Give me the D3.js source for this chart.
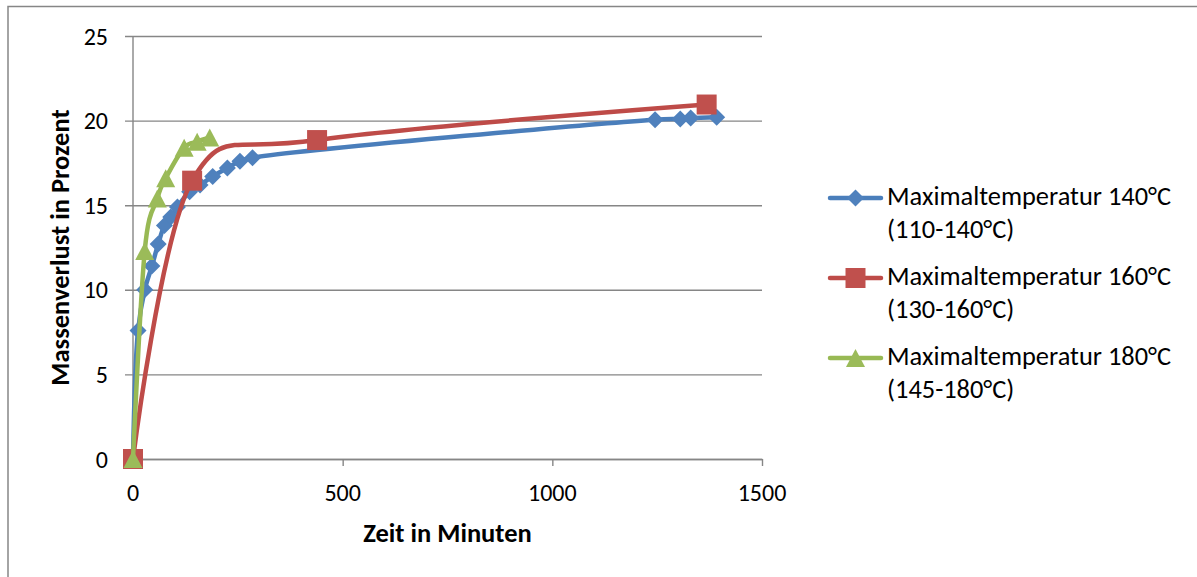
<!DOCTYPE html>
<html>
<head>
<meta charset="utf-8">
<script src="https://cdn.jsdelivr.net/npm/d3@7"></script>
<style>
  html, body { margin: 0; padding: 0; background: #fff; }
  svg { display: block; }
  text { font-family: Carlito, Lato, "Open Sans", sans-serif; fill: #000; }
</style>
</head>
<body>
<svg id="chart" width="1197" height="577"></svg>
<script>
// Mass loss over time at three drying temperature profiles
const timeBlue = [0, 12, 28, 45, 60, 75, 90, 106, 135, 160, 190, 225, 255, 285, 1245, 1305, 1330, 1392];
const lossBlue = [0, 7.6, 10.0, 11.4, 12.7, 13.8, 14.3, 14.9, 15.8, 16.2, 16.7, 17.2, 17.6, 17.8, 20.05, 20.1, 20.15, 20.2];

const timeRed = [0, 141, 439, 1368];
const lossRed = [0, 16.45, 18.85, 20.95];

const timeGreen = [0, 28, 58, 78, 122, 153, 183];
const lossGreen = [0, 12.3, 15.4, 16.6, 18.4, 18.75, 19.0];

const seriesNames = [
  ["Maximaltemperatur 140°C", "(110-140°C)"],
  ["Maximaltemperatur 160°C", "(130-160°C)"],
  ["Maximaltemperatur 180°C", "(145-180°C)"]
];
const xTicks = [0, 500, 1000, 1500];
const yTicks = [0, 5, 10, 15, 20, 25];
const xTitle = "Zeit in Minuten";
const yTitle = "Massenverlust in Prozent";

const svg = d3.select("#chart");
const W = 1197, H = 577;
const plot = { left: 133, right: 762, top: 36, bottom: 459 };
const gridColor = "#868686";
const tickFont = "24px", legendFont = "26.4px", titleFont = "26.5px";

// outer frame
svg.append("rect")
  .attr("x", 8).attr("y", 6.5)
  .attr("width", W + 20).attr("height", H + 20)
  .attr("fill", "none").attr("stroke", gridColor).attr("stroke-width", 1.5);

const x = d3.scaleLinear().domain([0, 1500]).range([plot.left, plot.right]);
const y = d3.scaleLinear().domain([0, 25]).range([plot.bottom, plot.top]);

// horizontal gridlines (with the small tick stub left of the axis)
svg.append("g")
  .attr("transform", `translate(${plot.left},0)`)
  .call(d3.axisLeft(y).tickValues(yTicks).tickSize(8).tickFormat(""))
  .call(g => g.select(".domain").remove())
  .call(g => g.selectAll("line").attr("stroke", gridColor).attr("stroke-width", 1.4)
    .attr("x2", plot.right - plot.left).attr("x1", -8));

// y tick labels
svg.append("g").selectAll("text").data(yTicks).join("text")
  .attr("x", 108).attr("y", d => y(d))
  .attr("text-anchor", "end").attr("dominant-baseline", "central")
  .style("font-size", tickFont)
  .text(d => d);

// y axis line
svg.append("line")
  .attr("x1", plot.left).attr("x2", plot.left)
  .attr("y1", plot.top).attr("y2", plot.bottom)
  .attr("stroke", gridColor).attr("stroke-width", 1.4);

// x axis with ticks
svg.append("g")
  .attr("transform", `translate(0,${plot.bottom})`)
  .call(d3.axisBottom(x).tickValues(xTicks).tickSize(7).tickSizeOuter(0).tickFormat(""))
  .call(g => g.select(".domain").attr("stroke", gridColor).attr("stroke-width", 1.4))
  .call(g => g.selectAll(".tick line").attr("stroke", gridColor).attr("stroke-width", 1.4));

svg.append("g").selectAll("text").data(xTicks).join("text")
  .attr("x", d => x(d)).attr("y", 492)
  .attr("text-anchor", "middle").attr("dominant-baseline", "central")
  .style("font-size", tickFont)
  .text(d => d);

// axis titles
svg.append("text")
  .attr("x", (plot.left + plot.right) / 2).attr("y", 533)
  .attr("text-anchor", "middle").attr("dominant-baseline", "central")
  .style("font-size", titleFont).style("font-weight", "bold")
  .text(xTitle);

svg.append("text")
  .attr("transform", `translate(60,${(plot.top + plot.bottom) / 2}) rotate(-90)`)
  .attr("text-anchor", "middle").attr("dominant-baseline", "central")
  .style("font-size", titleFont).style("font-weight", "bold")
  .text(yTitle);

// series: the dense 140°C run uses centripetal smoothing to avoid loops
const series = [
  { t: timeBlue, v: lossBlue, line: "#4A7EBB", fill: "#4F81BD", shape: "diamond",
    curve: d3.curveCatmullRom.alpha(0.5) },
  { t: timeRed, v: lossRed, line: "#BE4B48", fill: "#C0504D", shape: "square",
    curve: d3.curveCardinal.tension(0) },
  { t: timeGreen, v: lossGreen, line: "#98B954", fill: "#9BBB59", shape: "triangle",
    curve: d3.curveCardinal.tension(0) }
];

const markerPath = (shape) => {
  if (shape === "diamond") {
    const r = 8.5;
    return `M0,${-r}L${r},0L0,${r}L${-r},0Z`;
  }
  if (shape === "square") {
    const r = 10;
    return `M${-r},${-r}H${r}V${r}H${-r}Z`;
  }
  const w = 9.5, h = 9;
  return `M0,${-h}L${w},${h}L${-w},${h}Z`;
};

series.forEach(s => {
  const pts = s.t.map((t, i) => [t, s.v[i]]);
  const line = d3.line().x(d => x(d[0])).y(d => y(d[1])).curve(s.curve);
  const g = svg.append("g");
  g.append("path")
    .attr("d", line(pts))
    .attr("fill", "none")
    .attr("stroke", s.line)
    .attr("stroke-width", 4.5)
    .attr("stroke-linecap", "round")
    .attr("stroke-linejoin", "round");
  g.selectAll("path.marker").data(pts).join("path")
    .attr("class", "marker")
    .attr("transform", d => `translate(${x(d[0])},${y(d[1])})`)
    .attr("d", markerPath(s.shape))
    .attr("fill", s.fill);
});

// legend
const legend = svg.append("g");
series.forEach((s, i) => {
  const cy = 198 + i * 80;
  const g = legend.append("g").attr("transform", `translate(0,${cy})`);
  g.append("line")
    .attr("x1", 830).attr("x2", 881)
    .attr("stroke", s.line).attr("stroke-width", 4.5).attr("stroke-linecap", "round");
  g.append("path")
    .attr("transform", "translate(855.5,0)")
    .attr("d", markerPath(s.shape))
    .attr("fill", s.fill);
  g.selectAll("text").data(seriesNames[i]).join("text")
    .attr("x", 887).attr("y", (d, j) => 7 + j * 33)
    .style("font-size", legendFont)
    .text(d => d);
});
</script>
</body>
</html>
